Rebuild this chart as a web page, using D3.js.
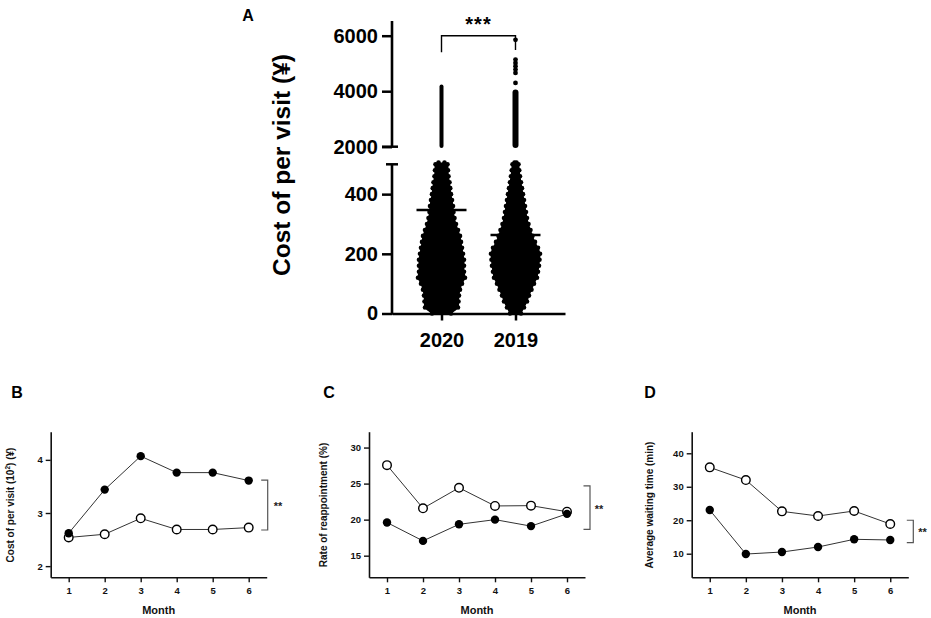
<!DOCTYPE html>
<html>
<head>
<meta charset="utf-8">
<script src="https://cdn.jsdelivr.net/npm/d3@7/dist/d3.min.js"></script>
<style>
  html, body { margin: 0; padding: 0; background: #fff; }
  svg { display: block; font-family: "Liberation Sans", Arial, Helvetica, sans-serif; font-weight: bold; }
</style>
</head>
<body>
<script>
// ---------------- DATA ----------------
// Panel A: swarm envelope (relative density of visits at each cost level)
const groups = ["2020", "2019"];
const swarmValues = [0, 20, 40, 60, 80, 100, 120, 140, 160, 180, 200, 220, 240, 260, 280, 300, 320, 340, 360, 380, 400, 420, 440, 460, 480, 500, 506];
const swarmDensity2020 = [40, 68, 70, 72, 76, 84, 96, 92, 92, 92, 88, 84, 80, 76, 68, 60, 54, 50, 48, 44, 40, 37, 34, 30, 28, 26, 14];
const swarmDensity2019 = [24, 36, 48, 56, 66, 76, 88, 92, 96, 98, 100, 92, 80, 70, 62, 54, 48, 44, 40, 36, 32, 28, 24, 20, 17, 14, 6];
const upperRange2020 = [1950, 4240];
const upperRange2019 = [1950, 4060];
const upperDensity2020 = 8;
const upperDensity2019 = 12;
const outliers2019 = [4300, 4660, 4780, 4900, 5020, 5140, 5850];
const groupMeans = [347, 263];
const lowTicks = [0, 200, 400];
const highTicks = [2000, 4000, 6000];

// Panels B-D
const months = [1, 2, 3, 4, 5, 6];
const cost2020 = [2.62, 3.44, 4.07, 3.76, 3.76, 3.61];
const cost2019 = [2.54, 2.60, 2.90, 2.69, 2.69, 2.725];
const rate2020 = [19.6, 17.05, 19.35, 20.0, 19.1, 20.8];
const rate2019 = [27.56, 21.57, 24.42, 21.9, 21.94, 21.1];
const wait2020 = [23.05, 9.9, 10.5, 12.0, 14.3, 14.1];
const wait2019 = [35.8, 32.0, 22.65, 21.26, 22.76, 18.87];
const costTicks = [2, 3, 4];
const rateTicks = [15, 20, 25, 30];
const waitTicks = [10, 20, 30, 40];
const costBracket = [2.68, 3.62];
const rateBracket = [18.65, 24.69];
const waitBracket = [13.3, 20.0];

// ---------------- DRAW ----------------
const svg = d3.select("body").append("svg").attr("width", 931).attr("height", 618);
const fmt = d3.format("d");

// ===== Panel A =====
const gA = svg.append("g");
const xA = d3.scalePoint().domain(groups).range([392, 565]).padding(0.669);
const yLow = d3.scaleLinear().domain([0, 500]).range([313.5, 164.3]);
const yHigh = d3.scaleLinear().domain([2000, 6530]).range([146.7, 21]);
const wScale = d3.scaleLinear().domain([0, 100]).range([0, 25]);

gA.append("text").attr("x", 248).attr("y", 21).attr("text-anchor", "middle")
  .attr("font-size", 16).text("A");

function drawSwarm(cat, dens) {
  const cx = xA(cat);
  const pts = swarmValues.map((v, i) => ({ v, w: dens[i] }));
  const area = d3.area().curve(d3.curveCatmullRom)
    .y(d => yLow(d.v)).x0(d => cx - wScale(d.w)).x1(d => cx + wScale(d.w));
  gA.append("path").datum(pts).attr("d", area).attr("fill", "#000");
  const edge = [];
  pts.forEach(d => { edge.push({ x: cx - wScale(d.w) + 0.5, y: yLow(d.v) }); edge.push({ x: cx + wScale(d.w) - 0.5, y: yLow(d.v) }); });
  gA.append("g").selectAll("circle").data(edge).join("circle")
    .attr("cx", d => d.x).attr("cy", d => d.y).attr("r", 2.3).attr("fill", "#000");
}
drawSwarm("2020", swarmDensity2020);
drawSwarm("2019", swarmDensity2019);

function drawColumn(cat, range, dens) {
  const cx = xA(cat), hw = wScale(dens);
  gA.append("rect").attr("x", cx - hw).attr("width", 2 * hw)
    .attr("y", yHigh(range[1])).attr("height", yHigh(range[0]) - yHigh(range[1]))
    .attr("rx", hw).attr("fill", "#000");
}
drawColumn("2020", upperRange2020, upperDensity2020);
drawColumn("2019", upperRange2019, upperDensity2019);
gA.append("g").selectAll("circle").data(outliers2019).join("circle")
  .attr("cx", xA("2019")).attr("cy", d => yHigh(d)).attr("r", 2.4).attr("fill", "#000");

// mean lines
gA.append("g").selectAll("line").data(groups).join("line")
  .attr("x1", d => xA(d) - 25).attr("x2", d => xA(d) + 25)
  .attr("y1", (d, i) => yLow(groupMeans[i])).attr("y2", (d, i) => yLow(groupMeans[i]))
  .attr("stroke", "#000").attr("stroke-width", 2.4);

// axes A
function styleAxisA(g) {
  g.selectAll(".tick line").attr("stroke", "#000").attr("stroke-width", 2.5);
  g.selectAll(".tick text").attr("font-size", 20).attr("font-weight", "bold").attr("fill", "#000")
    .attr("font-family", "'Liberation Sans', Arial, sans-serif");
  g.select(".domain").remove();
}
gA.append("g").attr("transform", "translate(392,0)")
  .call(d3.axisLeft(yLow).tickValues(lowTicks).tickFormat(fmt).tickSize(10).tickPadding(4).tickSizeOuter(0)).call(styleAxisA);
gA.append("g").attr("transform", "translate(392,0)")
  .call(d3.axisLeft(yHigh).tickValues(highTicks).tickFormat(fmt).tickSize(10).tickPadding(4).tickSizeOuter(0)).call(styleAxisA);
// axis spines with break caps
gA.append("line").attr("x1", 392).attr("x2", 392).attr("y1", yLow(0) + 1.2).attr("y2", yLow(500))
  .attr("stroke", "#000").attr("stroke-width", 2.6);
gA.append("line").attr("x1", 386).attr("x2", 398).attr("y1", yLow(500)).attr("y2", yLow(500))
  .attr("stroke", "#000").attr("stroke-width", 2.5);
gA.append("line").attr("x1", 392).attr("x2", 392).attr("y1", yHigh(2000)).attr("y2", yHigh(6530))
  .attr("stroke", "#000").attr("stroke-width", 2.6);
gA.append("line").attr("x1", 382).attr("x2", 398).attr("y1", yHigh(2000)).attr("y2", yHigh(2000))
  .attr("stroke", "#000").attr("stroke-width", 2.5);

const axB = gA.append("g").attr("transform", `translate(0,${yLow(0)})`)
  .call(d3.axisBottom(xA).tickSize(7).tickPadding(12.5).tickSizeOuter(0));
axB.select(".domain").attr("stroke", "#000").attr("stroke-width", 2.6);
axB.selectAll(".tick line").attr("stroke", "#000").attr("stroke-width", 2.5);
axB.selectAll(".tick text").attr("font-size", 20).attr("font-weight", "bold").attr("fill", "#000")
  .attr("font-family", "'Liberation Sans', Arial, sans-serif");

gA.append("text").attr("transform", "translate(290,165) rotate(-90)").attr("text-anchor", "middle")
  .attr("font-size", 24.5).text("Cost of per visit  (¥)");

// significance bracket A
const sigY = 35.7;
gA.append("path")
  .attr("d", `M${xA("2020")},52.3V${sigY}H${xA("2019")}V50`)
  .attr("fill", "none").attr("stroke", "#000").attr("stroke-width", 1.4);
gA.append("text").attr("x", (xA("2020") + xA("2019")) / 2).attr("y", 31).attr("text-anchor", "middle")
  .attr("font-size", 20).attr("letter-spacing", 1).text("***");

// ===== Panels B-D =====
const panels = [
  { letter: "B", lx: 17, xr: [50.7, 266.7], yd: [1.79, 4.53], ticks: costTicks, open: cost2019, filled: cost2020,
    label: "cost", labelX: 10, bracket: costBracket, bx: 267.7, starsX: 278 },
  { letter: "C", lx: 329, xr: [369, 585], yd: [12, 32.2], ticks: rateTicks, open: rate2019, filled: rate2020,
    label: "Rate of reappointment (%)", labelX: 323.5, bracket: rateBracket, bx: 590, starsX: 599 },
  { letter: "D", lx: 650, xr: [691.7, 908.3], yd: [2.95, 46.45], ticks: waitTicks, open: wait2019, filled: wait2020,
    label: "Average waiting time (min)", labelX: 649.5, bracket: waitBracket, bx: 913.3, starsX: 922.5 }
];

panels.forEach(p => {
  const g = svg.append("g");
  const x = d3.scaleLinear().domain([0.5, 6.5]).range(p.xr);
  const y = d3.scaleLinear().domain(p.yd).range([577.3, 431.7]);

  g.append("text").attr("x", p.lx).attr("y", 398).attr("text-anchor", "middle").attr("font-size", 16).text(p.letter);

  const ax = g.append("g").attr("transform", "translate(0,577.3)")
    .call(d3.axisBottom(x).tickValues(months).tickFormat(fmt).tickSize(5).tickPadding(5).tickSizeOuter(0));
  const ay = g.append("g").attr("transform", `translate(${p.xr[0]},0)`)
    .call(d3.axisLeft(y).tickValues(p.ticks).tickFormat(fmt).tickSize(5).tickPadding(3).tickSizeOuter(0));
  [ax, ay].forEach(a => {
    a.select(".domain").attr("stroke", "#111").attr("stroke-width", 1.6);
    a.selectAll(".tick line").attr("stroke", "#111").attr("stroke-width", 1.4);
    a.selectAll(".tick text").attr("font-size", 9.5).attr("font-weight", "bold").attr("fill", "#111")
      .attr("font-family", "'Liberation Sans', Arial, sans-serif");
  });

  g.append("text").attr("x", (p.xr[0] + p.xr[1]) / 2).attr("y", 614).attr("text-anchor", "middle")
    .attr("font-size", 11).attr("fill", "#111").text("Month");

  const lab = g.append("text").attr("transform", `translate(${p.labelX + 3.5},505) rotate(-90)`)
    .attr("text-anchor", "middle").attr("font-size", 10).attr("fill", "#111");
  if (p.label === "cost") {
    lab.append("tspan").text("Cost of per visit (10");
    lab.append("tspan").attr("font-size", 6.5).attr("dy", -4).text("2");
    lab.append("tspan").attr("dy", 4).text(")  (¥)");
  } else {
    lab.text(p.label);
  }

  const line = d3.line().x((d, i) => x(months[i])).y(d => y(d));
  [p.open, p.filled].forEach(s => {
    g.append("path").datum(s).attr("d", line).attr("fill", "none").attr("stroke", "#333").attr("stroke-width", 1);
  });
  g.append("g").selectAll("circle").data(p.open).join("circle")
    .attr("cx", (d, i) => x(months[i])).attr("cy", d => y(d)).attr("r", 4.3)
    .attr("fill", "#fff").attr("stroke", "#000").attr("stroke-width", 1.4);
  g.append("g").selectAll("circle").data(p.filled).join("circle")
    .attr("cx", (d, i) => x(months[i])).attr("cy", d => y(d)).attr("r", 4.2).attr("fill", "#000");

  const b0 = y(p.bracket[0]), b1 = y(p.bracket[1]);
  g.append("path").attr("d", `M${p.bx - 6.5},${b1}H${p.bx}V${b0}H${p.bx - 6.5}`)
    .attr("fill", "none").attr("stroke", "#555").attr("stroke-width", 1.2);
  g.append("text").attr("x", p.starsX).attr("y", (b0 + b1) / 2 + 5).attr("text-anchor", "middle")
    .attr("font-size", 11).attr("fill", "#222").text("**");
});
</script>
</body>
</html>
